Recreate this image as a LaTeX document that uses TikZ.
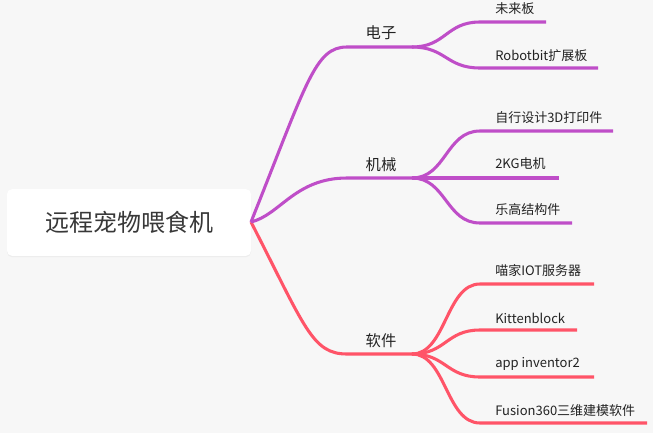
\documentclass[tikz,border=0pt]{standalone}
\usepackage{fontspec}
\setmainfont{Noto Sans CJK SC}
\usetikzlibrary{shadows}
\definecolor{bg}{RGB}{247,247,247}
\definecolor{pur}{RGB}{191,78,200}
\definecolor{rd}{RGB}{255,84,104}
\definecolor{txt}{RGB}{34,34,34}
\tikzset{
  rootbox/.style={fill=white, rounded corners=3.75pt, minimum width=183pt, minimum height=50pt,
    drop shadow={opacity=0.08, shadow xshift=0pt, shadow yshift=-1pt}, text=txt!90,
    font=\fontsize{18}{22}\selectfont, inner sep=0pt},
  branchlbl/.style={text=txt, font=\fontsize{11.5}{14}\selectfont, inner sep=0pt},
  leaflbl/.style={text=txt, font=\fontsize{9.75}{12}\selectfont, inner sep=0pt, anchor=west},
  purline/.style={draw=pur, line width=2.3pt},
  redline/.style={draw=rd, line width=2.3pt},
}
\begin{document}
\begin{tikzpicture}[x=0.75pt,y=-0.75pt]
\fill[bg] (0,0) rectangle (653,433);
\useasboundingbox (0,0) rectangle (653,433);

\node[rootbox] (root) at (129,222.5) {远程宠物喂食机};
\coordinate (r) at (251,222);

% branch labels
\node[branchlbl] (dz) at (381,33) {电子};
\node[branchlbl] (jx) at (381,164.5) {机械};
\node[branchlbl] (rj) at (381,340.5) {软件};

% branch coordinates
\coordinate (e0) at (347,47);  \coordinate (e1) at (412,47);
\coordinate (m0) at (347,178); \coordinate (m1) at (412,178);
\coordinate (s0) at (347,354); \coordinate (s1) at (412,354);

% leaf coordinates (start, end)
\coordinate (a0) at (480,22);  \coordinate (a1) at (546,22);
\coordinate (b0) at (480,68);  \coordinate (b1) at (598,68);
\coordinate (c0) at (480,131); \coordinate (c1) at (613,131);
\coordinate (d0) at (480,178); \coordinate (d1) at (559,178);
\coordinate (f0) at (480,223); \coordinate (f1) at (572,223);
\coordinate (g0) at (480,284); \coordinate (g1) at (594,284);
\coordinate (h0) at (480,330); \coordinate (h1) at (577,330);
\coordinate (i0) at (480,377); \coordinate (i1) at (594,377);
\coordinate (k0) at (480,423); \coordinate (k1) at (647,423);

% leaf labels
\node[leaflbl] (la) at (495,9)   {未来板};
\node[leaflbl] (lb) at (495,56)  {Robotbit扩展板};
\node[leaflbl] (lc) at (495,118) {自行设计3D打印件};
\node[leaflbl] (ld) at (495,164) {2KG电机};
\node[leaflbl] (lf) at (495,210) {乐高结构件};
\node[leaflbl] (lg) at (495,271) {喵家IOT服务器};
\node[leaflbl] (lh) at (495,318) {Kittenblock};
\node[leaflbl] (li) at (495,364) {app inventor2};
\node[leaflbl] (lk) at (495,411) {Fusion360三维建模软件};

% main branches
\draw[redline] (r) .. controls (305,327) and (312,354) .. (s0) -- (s1);
\draw[purline] (r) .. controls (280,215) and (295,178) .. (m0) -- (m1);
\draw[purline] (r) .. controls (307,82) and (315,47) .. (e0) -- (e1);

% sub branches
\draw[purline] (e1) .. controls (446,47) and (446,22) .. (a0) -- (a1);
\draw[purline] (e1) .. controls (446,47) and (446,68) .. (b0) -- (b1);
\draw[purline] (m1) .. controls (446,178) and (446,131) .. (c0) -- (c1);
\draw[purline] (m1) -- (d0) -- (d1);
\draw[purline] (m1) .. controls (446,178) and (446,223) .. (f0) -- (f1);
\draw[redline] (s1) .. controls (446,354) and (446,284) .. (g0) -- (g1);
\draw[redline] (s1) .. controls (446,354) and (446,330) .. (h0) -- (h1);
\draw[redline] (s1) .. controls (446,354) and (446,377) .. (i0) -- (i1);
\draw[redline] (s1) .. controls (446,354) and (446,423) .. (k0) -- (k1);
\end{tikzpicture}
\end{document}
